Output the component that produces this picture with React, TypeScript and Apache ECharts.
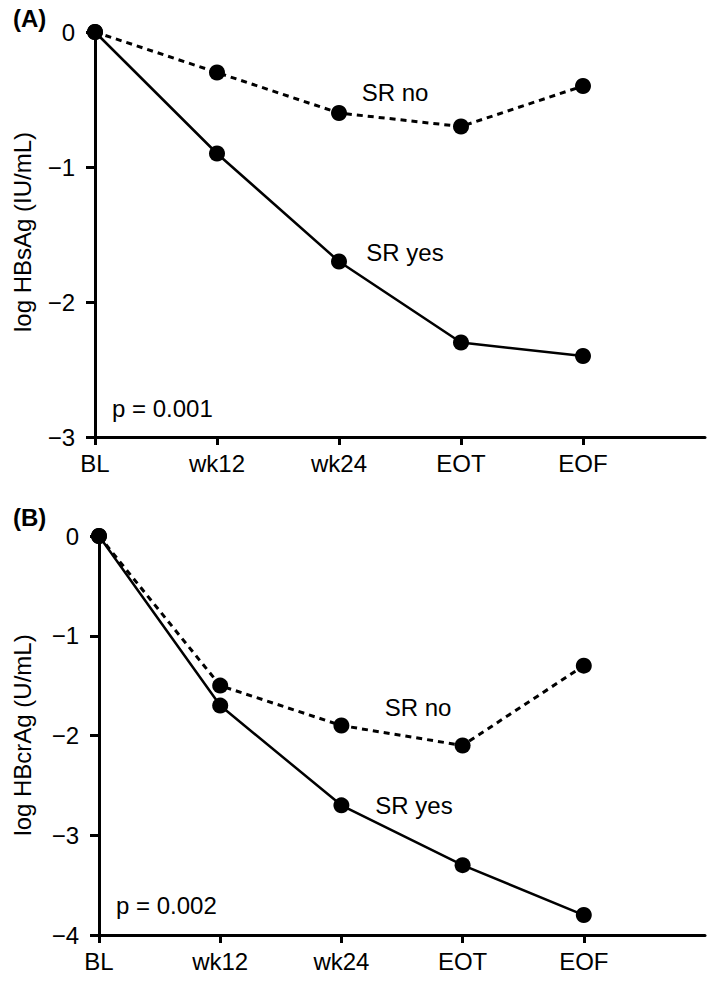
import React, { useEffect, useRef } from "react";
import * as echarts from "echarts";

const categories = ["BL", "wk12", "wk24", "EOT", "EOF"];
const hbsagSrNo = [0, -0.3, -0.6, -0.7, -0.4];
const hbsagSrYes = [0, -0.9, -1.7, -2.3, -2.4];
const hbcragSrNo = [0, -1.5, -1.9, -2.1, -1.3];
const hbcragSrYes = [0, -1.7, -2.7, -3.3, -3.8];

const FONT = "'Liberation Sans', Arial, Helvetica, sans-serif";
const FS = 24;

export default function App() {
  const ref = useRef<HTMLDivElement>(null);
  useEffect(() => {
    if (!ref.current) return;
    const chart = echarts.init(ref.current, undefined, { renderer: "svg" });
    const xData = [...categories, ""];
    const mkX = (gridIndex: number) => ({
      type: "category",
      gridIndex,
      data: xData,
      boundaryGap: false,
      axisLine: { onZero: false, lineStyle: { color: "#000", width: 3 } },
      axisTick: {
        show: true,
        length: 8,
        inside: false,
        interval: (i: number) => i < categories.length,
        lineStyle: { color: "#000", width: 3 },
      },
      axisLabel: {
        interval: 0,
        color: "#000",
        fontSize: FS,
        fontFamily: FONT,
        margin: 14,
      },
      splitLine: { show: false },
    });
    const mkY = (gridIndex: number, min: number) => ({
      type: "value",
      gridIndex,
      min,
      max: 0,
      interval: 1,
      axisLine: { show: true, onZero: false, lineStyle: { color: "#000", width: 3 } },
      axisTick: { show: true, length: 9, lineStyle: { color: "#000", width: 3 } },
      axisLabel: {
        color: "#000",
        fontSize: FS,
        fontFamily: FONT,
        margin: 20,
        formatter: (v: number) => (v < 0 ? "\u2212" + Math.abs(v) : String(v)),
      },
      splitLine: { show: false },
    });
    const mkSeries = (data: number[], idx: number, dashed: boolean, name: string) => ({
      type: "line",
      name,
      xAxisIndex: idx,
      yAxisIndex: idx,
      data,
      clip: false,
      symbol: "circle",
      symbolSize: 16,
      itemStyle: { color: "#000" },
      lineStyle: dashed
        ? { color: "#000", width: 3, type: [6, 5] }
        : { color: "#000", width: 2.5, type: "solid" },
      z: dashed ? 2 : 3,
    });
    const txt = (
      text: string,
      x: number,
      y: number,
      align: string = "center",
      bold = false,
      rotation = 0
    ) => ({
      type: "text",
      x,
      y,
      rotation,
      style: {
        text,
        fill: "#000",
        font: `${bold ? "bold " : ""}${FS}px ${FONT}`,
        align,
        verticalAlign: "middle",
      },
    });
    chart.setOption({
      animation: false,
      backgroundColor: "#fff",
      grid: [
        { left: 95, right: 4, top: 32, height: 405 },
        { left: 99, right: 4, top: 536, height: 399 },
      ],
      xAxis: [mkX(0), mkX(1)],
      yAxis: [mkY(0, -3), mkY(1, -4)],
      series: [
        mkSeries(hbsagSrNo, 0, true, "SR no"),
        mkSeries(hbsagSrYes, 0, false, "SR yes"),
        mkSeries(hbcragSrNo, 1, true, "SR no"),
        mkSeries(hbcragSrYes, 1, false, "SR yes"),
      ],
      graphic: [
        txt("(A)", 13, 18, "left", true),
        txt("(B)", 13, 517, "left", true),
        txt("log HBsAg (IU/mL)", 22, 232, "center", false, Math.PI / 2),
        txt("log HBcrAg (U/mL)", 22, 735, "center", false, Math.PI / 2),
        txt("SR no", 395, 92),
        txt("SR yes", 405, 252),
        txt("p = 0.001", 112, 408, "left"),
        txt("SR no", 418, 707),
        txt("SR yes", 414, 805),
        txt("p = 0.002", 116, 905, "left"),
      ],
    });
    return () => chart.dispose();
  }, []);
  return (
    <div
      ref={ref}
      style={{ position: "absolute", left: 0, top: 0, width: 709, height: 982, background: "#fff" }}
    />
  );
}
